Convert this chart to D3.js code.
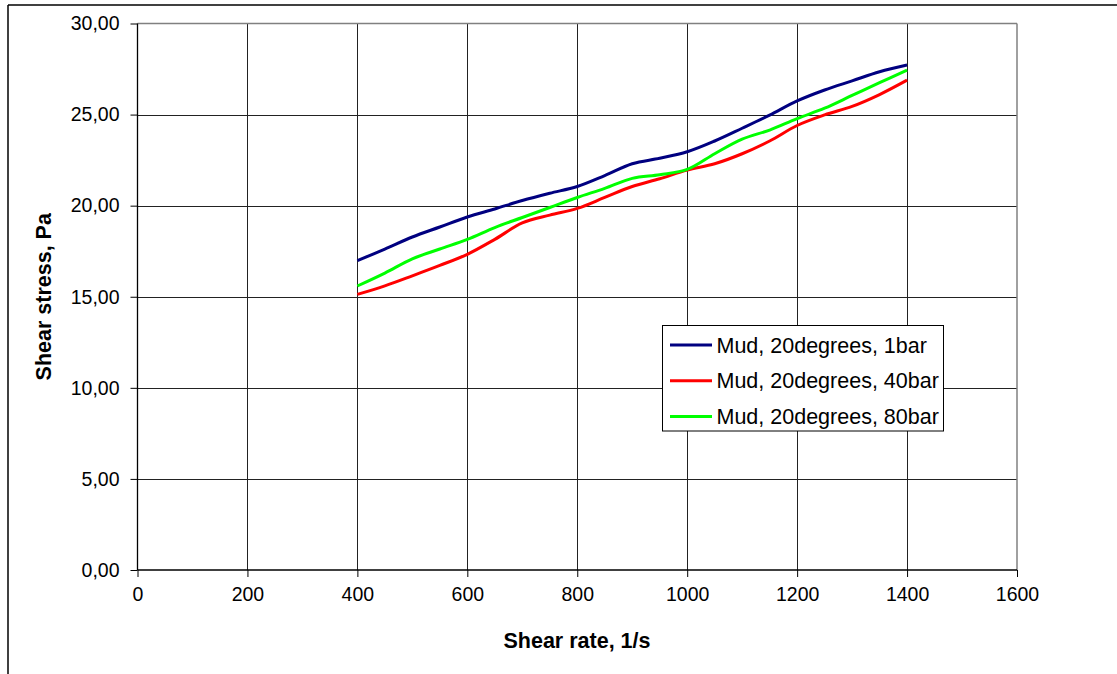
<!DOCTYPE html>
<html>
<head>
<meta charset="utf-8">
<script src="https://cdn.jsdelivr.net/npm/d3@7"></script>
<style>
  html, body { margin: 0; padding: 0; background: #fff; }
  svg { display: block; font-family: "Liberation Sans", Arial, sans-serif; }
</style>
</head>
<body>
<svg id="chart" width="1117" height="674"></svg>
<script>
const shearRate = [400,450,500,550,600,650,700,750,800,850,900,950,1000,1050,1100,1150,1200,1250,1300,1350,1400];
const stress1bar  = [16.98,17.62,18.28,18.83,19.38,19.82,20.28,20.68,21.05,21.65,22.30,22.60,22.96,23.55,24.25,24.97,25.75,26.35,26.85,27.35,27.72];
const stress40bar = [15.13,15.60,16.15,16.72,17.33,18.15,19.05,19.48,19.85,20.45,21.05,21.48,21.95,22.30,22.85,23.55,24.40,24.98,25.45,26.10,26.89];
const stress80bar = [15.59,16.30,17.08,17.62,18.15,18.80,19.35,19.90,20.45,20.95,21.50,21.70,21.99,22.85,23.65,24.15,24.78,25.35,26.05,26.75,27.44];
const seriesNames = ["Mud, 20degrees, 1bar", "Mud, 20degrees, 40bar", "Mud, 20degrees, 80bar"];
const seriesColors = ["#000080", "#ff0000", "#00ff00"];
const xTicks = [0,200,400,600,800,1000,1200,1400,1600];
const yTicks = [0,5,10,15,20,25,30];
const xTitle = "Shear rate, 1/s";
const yTitle = "Shear stress, Pa";

(function () {
const svg = d3.select("#chart");
const pL = 137.5, pR = 1017, pT = 23.5, pB = 570;

const x = d3.scaleLinear().domain([0,1600]).range([pL, pR]);
const y = d3.scaleLinear().domain([0,30]).range([pB, pT]);

// outer frame
svg.append("line").attr("x1",8).attr("y1",5).attr("x2",1117).attr("y2",5).attr("stroke","#000").attr("stroke-width",1.5);
svg.append("line").attr("x1",8).attr("y1",5).attr("x2",8).attr("y2",674).attr("stroke","#000").attr("stroke-width",1.5);

// grid
svg.append("g").selectAll("line").data(xTicks.slice(1, -1)).join("line")
  .attr("x1", d => Math.round(x(d)) + 0.5).attr("x2", d => Math.round(x(d)) + 0.5)
  .attr("y1", pT).attr("y2", pB).attr("stroke", "#222").attr("stroke-width", 1);
svg.append("g").selectAll("line").data(yTicks.slice(1, -1)).join("line")
  .attr("x1", pL).attr("x2", pR)
  .attr("y1", d => Math.round(y(d)) + 0.5).attr("y2", d => Math.round(y(d)) + 0.5)
  .attr("stroke", "#222").attr("stroke-width", 1);

// plot border top/right gray
svg.append("line").attr("x1", pL).attr("x2", pR).attr("y1", pT).attr("y2", pT).attr("stroke", "#808080").attr("stroke-width", 1.5);
svg.append("line").attr("x1", pR).attr("x2", pR).attr("y1", pT).attr("y2", pB).attr("stroke", "#808080").attr("stroke-width", 1.5);

// axes
const fmt = d => d3.format(".2f")(d).replace(".", ",");
const yAxis = svg.append("g").attr("transform", `translate(${pL},0)`)
  .call(d3.axisLeft(y).tickValues(yTicks).tickFormat(fmt).tickSize(7).tickPadding(11));
const xAxis = svg.append("g").attr("transform", `translate(0,${pB})`)
  .call(d3.axisBottom(x).tickValues(xTicks).tickFormat(d3.format("d")).tickSize(7).tickPadding(10));
[yAxis, xAxis].forEach(a => {
  a.select(".domain").attr("stroke", "#000").attr("stroke-width", 1.3);
  a.selectAll(".tick line").attr("stroke", "#000");
  a.selectAll("text").attr("fill", "#000").style("font-size", "19.5px").style("font-family", "'Liberation Sans', Arial, sans-serif");
});
xAxis.select(".domain").attr("d", `M${pL},0H${pR}`);
yAxis.select(".domain").attr("d", `M0,${pB}V${pT}`);

// lines
const allSeries = [stress1bar, stress40bar, stress80bar];
const line = d3.line().x((d,i) => x(shearRate[i])).y(d => y(d)).curve(d3.curveCatmullRom.alpha(0.5));
allSeries.forEach((s, k) => {
  svg.append("path").datum(s).attr("d", line).attr("fill", "none")
    .attr("stroke", seriesColors[k]).attr("stroke-width", 3).attr("stroke-linejoin", "round");
});

// axis titles
svg.append("text").attr("x", 577).attr("y", 648).attr("text-anchor", "middle")
  .style("font-size", "21.5px").style("font-weight", "bold").text(xTitle);
svg.append("text").attr("transform", `translate(51,${(pT + pB) / 2}) rotate(-90)`).attr("text-anchor", "middle")
  .style("font-size", "21.5px").style("font-weight", "bold").text(yTitle);

// legend
const lg = svg.append("g");
lg.append("rect").attr("x", 662.5).attr("y", 325.5).attr("width", 281).attr("height", 105.5)
  .attr("fill", "#fff").attr("stroke", "#000").attr("stroke-width", 1);
seriesNames.forEach((n, k) => {
  const yy = 345 + k * 35.8;
  lg.append("line").attr("x1", 670).attr("x2", 712).attr("y1", yy).attr("y2", yy)
    .attr("stroke", seriesColors[k]).attr("stroke-width", 3);
  lg.append("text").attr("x", 716.5).attr("y", yy).attr("dy", "0.35em")
    .style("font-size", "21.5px").text(n);
});
})();
</script>
</body>
</html>
